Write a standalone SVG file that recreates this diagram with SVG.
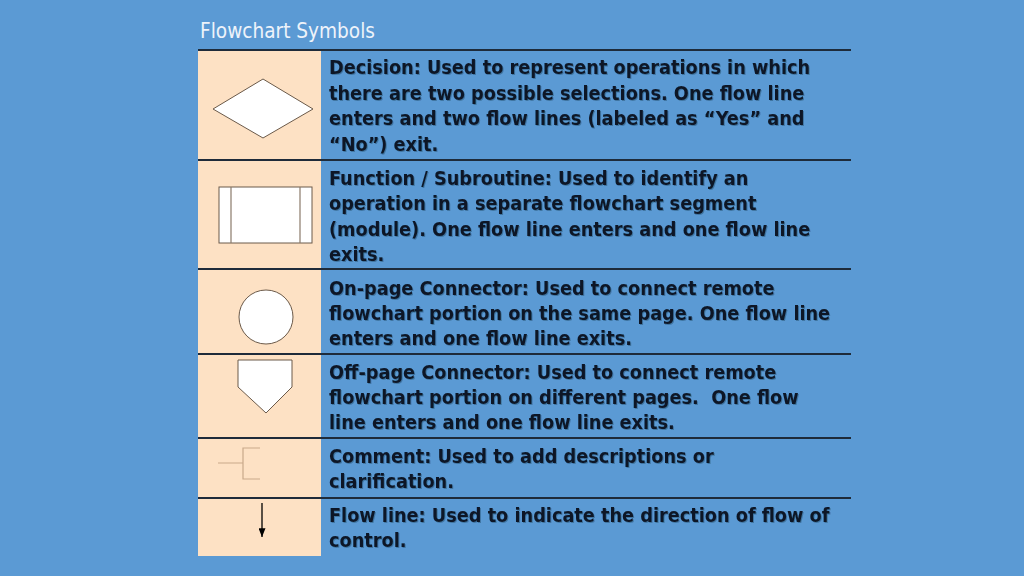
<svg xmlns="http://www.w3.org/2000/svg" width="1024" height="576" viewBox="0 0 1024 576">
<defs>
<style>
.bg{fill:#5B9AD4}
.cell{fill:#FDE1C4}
.rule{stroke:#1E2B3A;stroke-width:2}
.sym{fill:#FFFFFF;stroke:#6B5A4A;stroke-width:1}
.inner{stroke:#8A7A6A;stroke-width:1.2;fill:none}
.cmt{stroke:#C9A98A;stroke-width:1.2;fill:none}
.t{font-family:"DejaVu Sans","Liberation Sans",sans-serif;font-stretch:condensed;font-weight:bold;font-size:19.7px;fill:#0C1828;filter:url(#shadow)}
.title{font-family:"DejaVu Sans","Liberation Sans",sans-serif;font-stretch:condensed;font-size:20.6px;fill:#EEF3FA}
</style>
<filter id="shadow" x="-5%" y="-30%" width="110%" height="160%">
<feDropShadow dx="1" dy="1" stdDeviation="0.6" flood-color="#0A1526" flood-opacity="0.3"/>
</filter>
<marker id="ah" viewBox="0 0 10 8" refX="10" refY="4" markerWidth="9" markerHeight="7" markerUnits="userSpaceOnUse" orient="auto">
<path d="M0,0 L10,4 L0,8 Z" fill="#000"/>
</marker>
</defs>
<rect class="bg" x="0" y="0" width="1024" height="576"/>
<text class="title" x="200" y="38">Flowchart Symbols</text>
<rect class="cell" x="198" y="50" width="123" height="506"/>
<g id="rules">
<line class="rule" x1="198" y1="50" x2="851" y2="50"/>
<line class="rule" x1="198" y1="160" x2="851" y2="160"/>
<line class="rule" x1="198" y1="269" x2="851" y2="269"/>
<line class="rule" x1="198" y1="354" x2="851" y2="354"/>
<line class="rule" x1="198" y1="438" x2="851" y2="438"/>
<line class="rule" x1="198" y1="498" x2="851" y2="498"/>
</g>
<g id="decision">
<polygon class="sym" points="213,109 263,79 313,109 263,138"/>
<g class="t">
<text x="329" y="74">Decision: Used to represent operations in which</text>
<text x="329" y="100">there are two possible selections. One flow line</text>
<text x="329" y="125">enters and two flow lines (labeled as “Yes” and</text>
<text x="329" y="151">“No”) exit.</text>
</g>
</g>
<g id="function">
<rect class="sym" x="219" y="187" width="93" height="56"/>
<line class="inner" x1="231" y1="187" x2="231" y2="243"/>
<line class="inner" x1="300" y1="187" x2="300" y2="243"/>
<g class="t">
<text x="329" y="185">Function / Subroutine: Used to identify an</text>
<text x="329" y="210">operation in a separate flowchart segment</text>
<text x="329" y="236">(module). One flow line enters and one flow line</text>
<text x="329" y="261">exits.</text>
</g>
</g>
<g id="onpage">
<circle class="sym" cx="266" cy="317" r="27"/>
<g class="t">
<text x="329" y="295">On-page Connector: Used to connect remote</text>
<text x="329" y="320">flowchart portion on the same page. One flow line</text>
<text x="329" y="345">enters and one flow line exits.</text>
</g>
</g>
<g id="offpage">
<polygon class="sym" points="238,360 292,360 292,387 266,413 238,387"/>
<g class="t">
<text x="329" y="379">Off-page Connector: Used to connect remote</text>
<text x="329" y="404" xml:space="preserve">flowchart portion on different pages.  One flow</text>
<text x="329" y="429">line enters and one flow line exits.</text>
</g>
</g>
<g id="comment">
<path class="cmt" d="M218,463 H243 M260,448 H243 V479 H260"/>
<g class="t">
<text x="329" y="463">Comment: Used to add descriptions or</text>
<text x="329" y="488">clarification.</text>
</g>
</g>
<g id="connectors">
<line x1="262" y1="503" x2="262" y2="537" stroke="#000" stroke-width="1.3" marker-end="url(#ah)"/>
</g>
<g id="flowline">
<g class="t">
<text x="329" y="522">Flow line: Used to indicate the direction of flow of</text>
<text x="329" y="547">control.</text>
</g>
</g>
</svg>
